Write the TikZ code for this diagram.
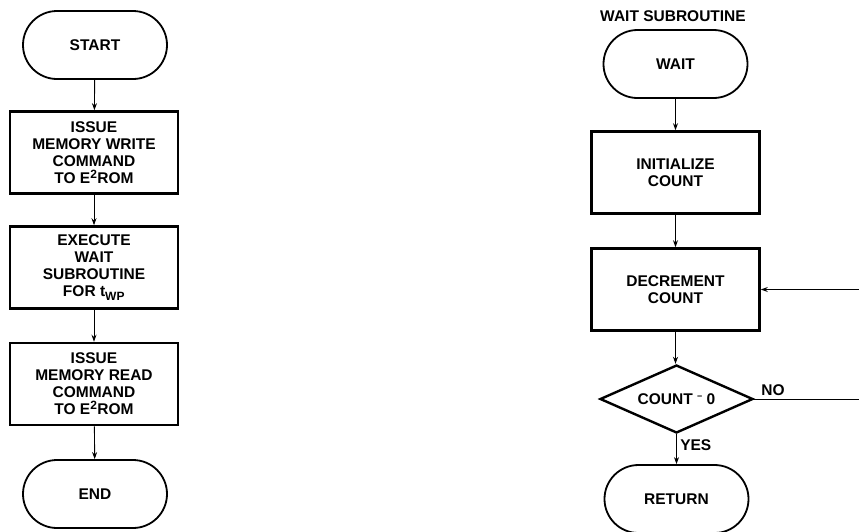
\documentclass[tikz,border=0pt]{standalone}
\usepackage{fontspec}
\setmainfont{Liberation Sans}
\usetikzlibrary{arrows.meta,shapes.geometric}

\tikzset{
  every node/.style = {font = \fontsize{15.5}{17}\selectfont\bfseries, align = center},
  terminal/.style = {draw, line width = 1.8pt, rectangle, rounded corners = 34pt,
    minimum width = 144pt, minimum height = 68pt},
  procbox/.style = {draw, line width = 2.6pt, rectangle, minimum width = 168pt,
    minimum height = 82pt, inner sep = 0pt},
  decision/.style = {draw, line width = 2.4pt, diamond, aspect = 2.25, inner sep = 0pt,
    minimum width = 153pt, minimum height = 68pt},
  flow/.style = {line width = 0.9pt, -{Stealth[length = 7pt, width = 5pt]}}
}

\begin{document}
\begin{tikzpicture}[x = 1pt, y = -1pt]
    \useasboundingbox (0, 0) rectangle (859, 531);
    % main program
    \node [terminal] (start) at (95, 45) {START};
    \node [procbox] (wr) at (94, 152.5) {ISSUE\\MEMORY WRITE\\COMMAND\\TO E\textsuperscript{\large 2}ROM};
    \node [procbox] (ex) at (94, 267.5) {EXECUTE\\WAIT\\SUBROUTINE\\FOR t\textsubscript{\large WP}};
    \node [procbox] (rd) at (94, 384) {ISSUE\\MEMORY READ\\COMMAND\\TO E\textsuperscript{\large 2}ROM};
    \node [terminal] (end) at (95, 494) {END};
    \draw [flow] (start) -- (wr);
    \draw [flow] (wr) -- (ex);
    \draw [flow] (ex) -- (rd);
    \draw [flow] (rd) -- (end);
    % wait subroutine
    \node (title) at (673, 16) {WAIT SUBROUTINE};
    \node [terminal] (wait) at (675.5, 64) {WAIT};
    \node [procbox] (init) at (675.5, 172.5) {INITIALIZE\\COUNT};
    \node [procbox] (dec) at (675.5, 289.5) {DECREMENT\\COUNT};
    \node [decision] (test) at (676.5, 399) {COUNT \raisebox{.3em}{\small\textminus} 0};
    \node [terminal] (ret) at (676.5, 499) {RETURN};
    \draw [flow] (wait) -- (init);
    \draw [flow] (init) -- (dec);
    \draw [flow] (dec) -- (test.north -| dec);
    \draw [flow] (test.south -| ret) -- node [right, pos = 0.35] (yes) {YES} (ret);
    \coordinate (loop) at (880, 399);
    \draw [flow] (test.east) -- node [above, pos = 0.15] (no) {NO} (loop) |- (dec.east);
\end{tikzpicture}
\end{document}
